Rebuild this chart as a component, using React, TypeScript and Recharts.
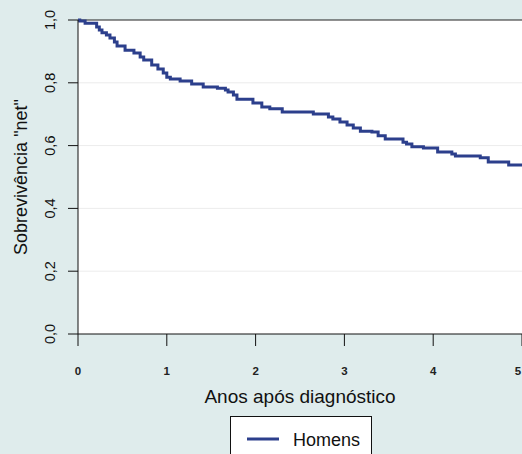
import React from "react";
import {
  CartesianGrid,
  Line,
  LineChart,
  ReferenceLine,
  XAxis,
  YAxis,
} from "recharts";

// Kaplan-Meier style step points (time in years, net survival)
const anos = [
  0, 0.02, 0.08, 0.21, 0.24, 0.27, 0.32, 0.36, 0.41, 0.44, 0.53, 0.63, 0.7,
  0.74, 0.83, 0.9, 0.96, 1.0, 1.04, 1.15, 1.28, 1.41, 1.57, 1.66, 1.69, 1.75,
  1.79, 1.97, 2.07, 2.16, 2.3, 2.65, 2.82, 2.87, 2.95, 3.03, 3.1, 3.18, 3.31,
  3.38, 3.46, 3.66, 3.7, 3.76, 3.89, 4.05, 4.21, 4.25, 4.53, 4.62, 4.85, 5.0,
];
const homens = [
  1.0, 0.997, 0.99, 0.978, 0.968, 0.959, 0.952, 0.943, 0.93, 0.917, 0.904,
  0.895, 0.882, 0.873, 0.857, 0.844, 0.831, 0.818, 0.812, 0.806, 0.796, 0.787,
  0.783, 0.777, 0.771, 0.761, 0.748, 0.736, 0.723, 0.717, 0.707, 0.701, 0.691,
  0.685, 0.675, 0.666, 0.656, 0.646, 0.643, 0.631, 0.621, 0.611, 0.605, 0.596,
  0.592, 0.58, 0.573, 0.567, 0.561, 0.548, 0.538, 0.538,
];
const xTicks = [0, 1, 2, 3, 4, 5];
const yTicks = [0, 0.2, 0.4, 0.6, 0.8, 1.0];

const data = anos.map((t, i) => ({ t, s: homens[i] }));

const font = "'Liberation Sans', Arial, sans-serif";
const lineColor = "#2c3f8c";

const YTick = (props: any) => {
  const { y, payload } = props;
  const label = payload.value.toFixed(1).replace(".", ",");
  return (
    <text
      x={55}
      y={y}
      transform={`rotate(-90, 55, ${y})`}
      textAnchor="middle"
      fontSize={14.5}
      fontFamily={font}
      fill="#111"
    >
      {label}
    </text>
  );
};

const XTick = (props: any) => {
  const { x, payload } = props;
  return (
    <text
      x={x}
      y={375}
      textAnchor="middle"
      fontSize={11.5}
      fontWeight="bold"
      fontFamily={font}
      fill="#222"
    >
      {payload.value}
    </text>
  );
};

const XTitle = () => (
  <text x={300} y={403} textAnchor="middle" fontSize={19} fontFamily={font} fill="#111">
    Anos após diagnóstico
  </text>
);

const YTitle = () => (
  <text
    x={27}
    y={177}
    transform="rotate(-90, 27, 177)"
    textAnchor="middle"
    fontSize={18}
    fontFamily={font}
    fill="#111"
  >
    Sobrevivência "net"
  </text>
);

export default function App() {
  return (
    <div
      style={{
        position: "absolute",
        left: 0,
        top: 0,
        width: 522,
        height: 454,
        overflow: "hidden",
        background: "#dfecec",
      }}
    >
      <LineChart
        width={522}
        height={454}
        data={data}
        margin={{ top: 20, right: 0, bottom: 0, left: 0 }}
      >
        <CartesianGrid
          vertical={false}
          stroke="#ececec"
          fill="#ffffff"
          horizontalValues={[0.2, 0.4, 0.6, 0.8]}
        />
        <XAxis
          dataKey="t"
          type="number"
          domain={[0, 5]}
          ticks={xTicks}
          height={120}
          stroke="#111"
          tickSize={12}
          tick={<XTick />}
          label={<XTitle />}
        />
        <YAxis
          type="number"
          domain={[0, 1]}
          ticks={yTicks}
          width={78}
          stroke="#111"
          tickSize={10}
          tick={<YTick />}
          label={<YTitle />}
        />
        <ReferenceLine y={1} stroke="#222" />
        <Line
          type="stepAfter"
          dataKey="s"
          stroke={lineColor}
          strokeWidth={3}
          dot={false}
          isAnimationActive={false}
        />
      </LineChart>
      <div
        style={{
          position: "absolute",
          left: 230,
          top: 416,
          width: 140,
          height: 50,
          background: "#fff",
          border: "1px solid #111",
        }}
      >
        <svg width={140} height={50} style={{ display: "block" }}>
          <line x1={16} x2={48} y1={22} y2={22} stroke={lineColor} strokeWidth={3} />
          <text x={62} y={29} fontSize={18} fontFamily={font} fill="#111">
            Homens
          </text>
        </svg>
      </div>
    </div>
  );
}
